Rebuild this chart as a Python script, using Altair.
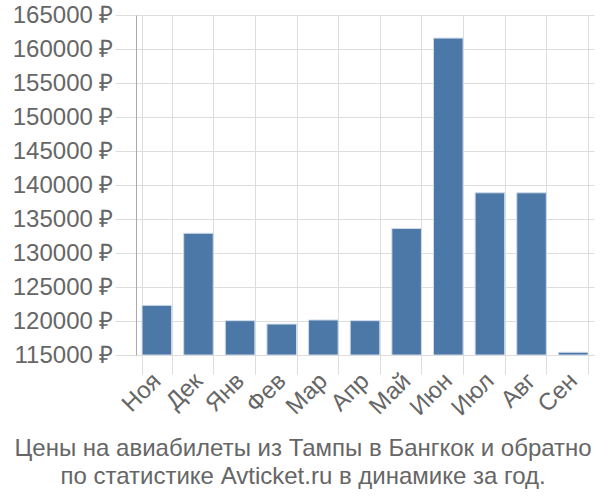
import altair as alt
import pandas as pd

months = ["Ноя", "Дек", "Янв", "Фев", "Мар", "Апр", "Май", "Июн", "Июл", "Авг", "Сен"]
prices = [122300, 132900, 120050, 119550, 120150, 120050, 133600, 161600, 138850, 138850, 115400]
base = 115000

df = pd.DataFrame({"month": months, "price": prices})

chart = alt.Chart(df).mark_bar(color="#4c78a8", stroke="#d0dbe8", strokeWidth=1).encode(
    x=alt.X("month:N", sort=months, title=None,
            scale=alt.Scale(paddingInner=0.29, paddingOuter=0.145),
            axis=alt.Axis(labelAngle=-45, labelAlign="right", labelBaseline="middle",
                          labelFontSize=24, labelColor="#666666",
                          labelFont="Liberation Sans", domainColor="#dddddd",
                          tickColor="#dddddd", tickSize=19, tickBand="extent",
                          gridColor="#dddddd", grid=True, labelPadding=3)),
    y=alt.Y("price:Q", title=None,
            scale=alt.Scale(domain=[115000, 165000], zero=False, nice=False),
            axis=alt.Axis(values=list(range(115000, 165001, 5000)),
                          labelExpr="datum.value + ' ₽'",
                          labelFontSize=24, labelColor="#666666", labelFont="Liberation Sans",
                          domainColor="#aaaaaa", tickColor="#dddddd", tickSize=21,
                          gridColor="#dddddd", labelPadding=2)),
    y2=alt.datum(base),
).properties(
    width=458, height=340,
    title=alt.TitleParams(
        ["Цены на авиабилеты из Тампы в Бангкок и обратно",
         "по статистике Avticket.ru в динамике за год."],
        orient="bottom", anchor="middle", frame="bounds", font="Liberation Sans", fontSize=24,
        fontWeight="normal", color="#666666", lineHeight=28, offset=17),
    autosize=alt.AutoSizeParams(type="none"),
    padding={"left": 136, "top": 15, "right": 6, "bottom": 145},
).configure_view(stroke=None)

chart.save("out.html", embed_options={"renderer": "svg", "actions": False})
